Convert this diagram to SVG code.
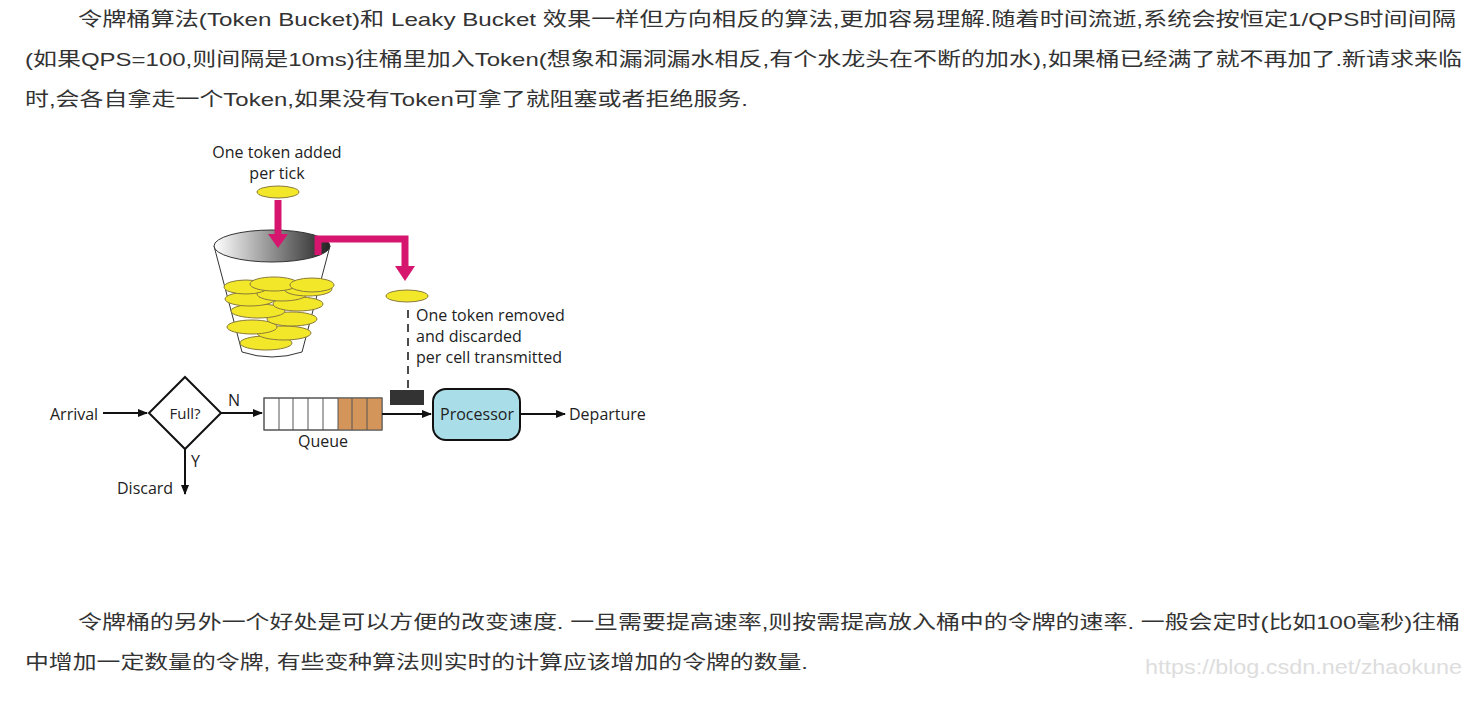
<svg xmlns="http://www.w3.org/2000/svg" width="1468" height="723" viewBox="0 0 1468 723">
<defs>
<style>
.p{font-family:"Liberation Sans","Noto Sans CJK SC",sans-serif;font-size:19px;fill:#333}
.d{font-family:"Open Sans","Liberation Sans",sans-serif;font-size:16px;fill:#222}
.ln{stroke:#111;stroke-width:2;fill:none}
.coin{fill:#f2e829;stroke:#8a7a3a;stroke-width:1}
</style>
<marker id="ah" markerWidth="10" markerHeight="8" refX="9" refY="4" orient="auto" markerUnits="userSpaceOnUse"><path d="M0,0 L10,4 L0,8 Z" fill="#111"/></marker>
<linearGradient id="g" x1="0" x2="1"><stop offset="0" stop-color="#fff"/><stop offset="1" stop-color="#222"/></linearGradient>
</defs>
<rect width="1468" height="723" fill="#fff"/>
<g id="text">
<text class="p" x="78" y="26" textLength="1378" lengthAdjust="spacingAndGlyphs">令牌桶算法(Token Bucket)和 Leaky Bucket 效果一样但方向相反的算法,更加容易理解.随着时间流逝,系统会按恒定1/QPS时间间隔</text>
<text class="p" x="25" y="66" textLength="1437" lengthAdjust="spacingAndGlyphs">(如果QPS=100,则间隔是10ms)往桶里加入Token(想象和漏洞漏水相反,有个水龙头在不断的加水),如果桶已经满了就不再加了.新请求来临</text>
<text class="p" x="25" y="106" textLength="723" lengthAdjust="spacingAndGlyphs">时,会各自拿走一个Token,如果没有Token可拿了就阻塞或者拒绝服务.</text>
<text class="p" x="78" y="629" textLength="1382" lengthAdjust="spacingAndGlyphs">令牌桶的另外一个好处是可以方便的改变速度. 一旦需要提高速率,则按需提高放入桶中的令牌的速率. 一般会定时(比如100毫秒)往桶</text>
<text class="p" x="25" y="669" textLength="783" lengthAdjust="spacingAndGlyphs">中增加一定数量的令牌, 有些变种算法则实时的计算应该增加的令牌的数量.</text>
<text x="1145" y="674" textLength="317" lengthAdjust="spacingAndGlyphs" style="font-family:'Liberation Sans',sans-serif;font-size:20px;fill:#ddd">https://blog.csdn.net/zhaokune</text>
</g>
<g id="bucket">
<path d="M214,246 L242,352 Q272,362 302,352 L330,246" fill="#fff" stroke="#333"/>
<g class="coin">
<ellipse cx="266" cy="343" rx="26" ry="7"/><ellipse cx="284" cy="333" rx="27" ry="7"/><ellipse cx="252" cy="327" rx="25" ry="7"/>
<ellipse cx="292" cy="319" rx="25" ry="7"/><ellipse cx="258" cy="311" rx="27" ry="7"/><ellipse cx="298" cy="304" rx="25" ry="7"/>
<ellipse cx="250" cy="299" rx="25" ry="7"/><ellipse cx="282" cy="294" rx="25" ry="7"/><ellipse cx="308" cy="289" rx="24" ry="7"/>
<ellipse cx="246" cy="287" rx="22" ry="7"/><ellipse cx="274" cy="284" rx="24" ry="7"/><ellipse cx="312" cy="285" rx="22" ry="7"/>
</g>
<ellipse cx="272" cy="246" rx="58" ry="16" fill="url(#g)" stroke="#333"/>
</g>
<g id="tokens">
<ellipse class="coin" cx="278" cy="192" rx="21" ry="6"/>
<ellipse class="coin" cx="407" cy="296" rx="21" ry="6"/>
<text class="d" text-anchor="middle" x="277" y="158">One token added</text>
<text class="d" text-anchor="middle" x="277" y="179">per tick</text>
<text class="d" x="416" y="321">One token removed</text>
<text class="d" x="416" y="342">and discarded</text>
<text class="d" x="416" y="363">per cell transmitted</text>
</g>
<g id="flow">
<polygon points="185,377 221,413 185,449 149,413" fill="#fff" stroke="#111" stroke-width="2"/>
<text class="d" text-anchor="middle" x="185" y="419" style="font-size:15px">Full?</text>
<rect x="264" y="398" width="118" height="32" fill="#fff" stroke="#555"/>
<rect x="338" y="398" width="44" height="32" fill="#d4955a"/>
<path d="M279,398V430M293,398V430M308,398V430M323,398V430M338,398V430M352,398V430M367,398V430" stroke="#555"/>
<rect x="264" y="398" width="118" height="32" fill="none" stroke="#555"/>
<text class="d" text-anchor="middle" x="323" y="447">Queue</text>
<rect x="390" y="390" width="34" height="15" fill="#333"/>
<rect x="433" y="389" width="87" height="51" rx="13" fill="#a9dde8" stroke="#111" stroke-width="2"/>
<text class="d" text-anchor="middle" x="477" y="420">Processor</text>
<text class="d" x="50" y="420">Arrival</text>
<text class="d" x="569" y="420">Departure</text>
<text class="d" x="228" y="406">N</text>
<text class="d" x="191" y="467">Y</text>
<text class="d" x="117" y="494">Discard</text>
</g>
<g id="connectors">
<path d="M278,200 V236" stroke="#d6166e" stroke-width="7" fill="none"/>
<polygon points="268,234 288,234 278,248" fill="#d6166e"/>
<path d="M318,255 V239 H405 V268" stroke="#d6166e" stroke-width="7" fill="none"/>
<polygon points="395,266 415,266 405,281" fill="#d6166e"/>
<path d="M408,310 V388" stroke="#111" stroke-width="1.5" stroke-dasharray="8,6"/>
<path class="ln" d="M103,413 H147" marker-end="url(#ah)"/>
<path class="ln" d="M221,413 H262" marker-end="url(#ah)"/>
<path class="ln" d="M382,414 H431" marker-end="url(#ah)"/>
<path class="ln" d="M520,414 H565" marker-end="url(#ah)"/>
<path class="ln" d="M185,449 V494" marker-end="url(#ah)"/>
</g>
</svg>
